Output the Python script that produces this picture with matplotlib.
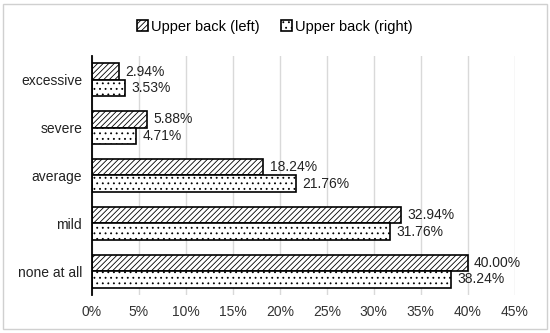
import matplotlib.pyplot as plt
import matplotlib.patches as mpatches
import numpy as np

plt.rcParams['font.family'] = ['Liberation Sans', 'DejaVu Sans']
plt.rcParams['hatch.linewidth'] = 0.6

# categories, bottom to top
categories = ['none at all', 'mild', 'average', 'severe', 'excessive']
left_vals = [40.00, 32.94, 18.24, 5.88, 2.94]
right_vals = [38.24, 31.76, 21.76, 4.71, 3.53]
series_names = ['Upper back (left)', 'Upper back (right)']
xticks = [0, 5, 10, 15, 20, 25, 30, 35, 40, 45]

fig = plt.figure(figsize=(5.5, 3.33), dpi=100)
ax = fig.add_axes([0.167, 0.114, 0.769, 0.718])

y = np.arange(len(categories))
h = 0.345
b1 = ax.barh(y + h / 2, left_vals, height=h, color='white', edgecolor='black',
             hatch='//////', linewidth=1.2, label=series_names[0], zorder=3)
b2 = ax.barh(y - h / 2, right_vals, height=h, color='white', edgecolor='black',
             hatch='...', linewidth=1.2, label=series_names[1], zorder=3)

for bars, vals in ((b1, left_vals), (b2, right_vals)):
    for rect, v in zip(bars, vals):
        ax.annotate(f'{v:.2f}%', (rect.get_width(), rect.get_y() + rect.get_height() / 2),
                    xytext=(4.5, 0), textcoords='offset points', va='center', ha='left',
                    fontsize=10, color='#222222')

ax.set_xlim(0, 45)
ax.set_ylim(-0.5, len(categories) - 0.5)
ax.set_xticks(xticks)
ax.set_xticklabels([f'{t}%' for t in xticks], fontsize=10, color='#333333')
ax.set_yticks(y)
ax.set_yticklabels(categories, fontsize=10, color='#222222')
ax.tick_params(axis='both', length=0, pad=7)
ax.xaxis.grid(True, color='#d9d9d9', linewidth=1.0, zorder=0)
ax.set_axisbelow(True)
for s in ['top', 'right', 'bottom']:
    ax.spines[s].set_visible(False)
ax.spines['left'].set_linewidth(1.3)
ax.spines['left'].set_zorder(4)

handles = [b1, b2]
fig.legend(handles, series_names, loc='center', bbox_to_anchor=(0.5, 0.92), ncol=2,
           frameon=False, fontsize=10.5, handlelength=0.75, handleheight=0.75,
           handletextpad=0.2, columnspacing=1.5)

fig.patches.append(mpatches.Rectangle((0.006, 0.012), 0.988, 0.976, transform=fig.transFigure,
                                      fill=False, edgecolor='#d0d0d0', linewidth=1.0))

fig.savefig('out.png', dpi=100)
